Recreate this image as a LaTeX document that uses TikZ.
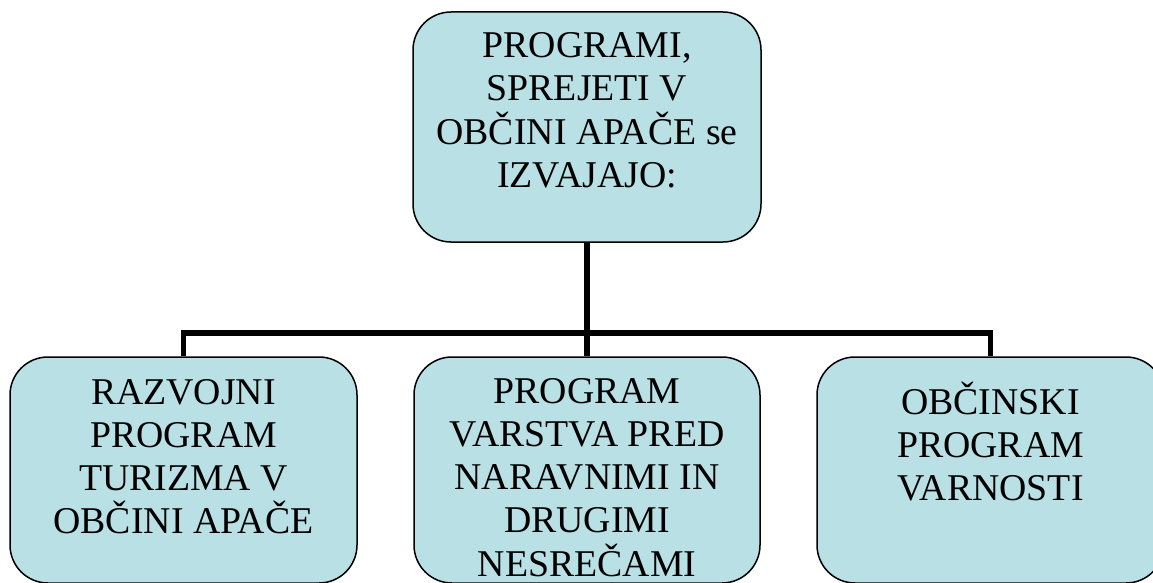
\documentclass[tikz,border=0pt]{standalone}
\usepackage{fontspec}
\setmainfont{Liberation Serif}
\usepackage{tikz}

\definecolor{skatla}{RGB}{185,224,228}

\tikzset{
  box/.style={draw=black, line width=1.5pt, fill=skatla, rounded corners=38pt, inner sep=0pt},
  txt/.style={align=center, inner sep=0pt, anchor=north, text depth=0pt, font=\fontsize{37.8}{43.2}\selectfont},
  conn/.style={line width=5.5pt}
}

\begin{document}
\begin{tikzpicture}[x=1pt,y=-1pt]

\useasboundingbox (0,0) rectangle (1153,583);
\clip (0,0) rectangle (1153,583);

\node[box, minimum width=348pt, minimum height=230pt] (vrh) at (587,127) {};
\node[box, minimum width=347pt, minimum height=226pt] (razvoj) at (183.5,470) {};
\node[box, minimum width=346pt, minimum height=226pt] (zascita) at (587,470) {};
\node[box, minimum width=347pt, minimum height=226pt] (varnost) at (990.5,470) {};


\draw[conn] (vrh.south) -- (587,333) coordinate (pas);
\draw[conn] (razvoj.north) |- (pas) -| (varnost.north);
\draw[conn] (pas) -- (zascita.north);


\node[txt] (vrhT) at (587,32.5) {PROGRAMI,\\SPREJETI V\\OBČINI APAČE se\\IZVAJAJO:};
\node[txt] (razvojT) at (183.5,379) {RAZVOJNI\\PROGRAM\\TURIZMA V\\OBČINI APAČE};
\node[txt] (zascitaT) at (587,378) {PROGRAM\\VARSTVA PRED\\NARAVNIMI IN\\DRUGIMI\\NESREČAMI};
\node[txt] (varnostT) at (990.5,381.5) {OBČINSKI\\PROGRAM\\VARNOSTI};

\end{tikzpicture}
\end{document}
